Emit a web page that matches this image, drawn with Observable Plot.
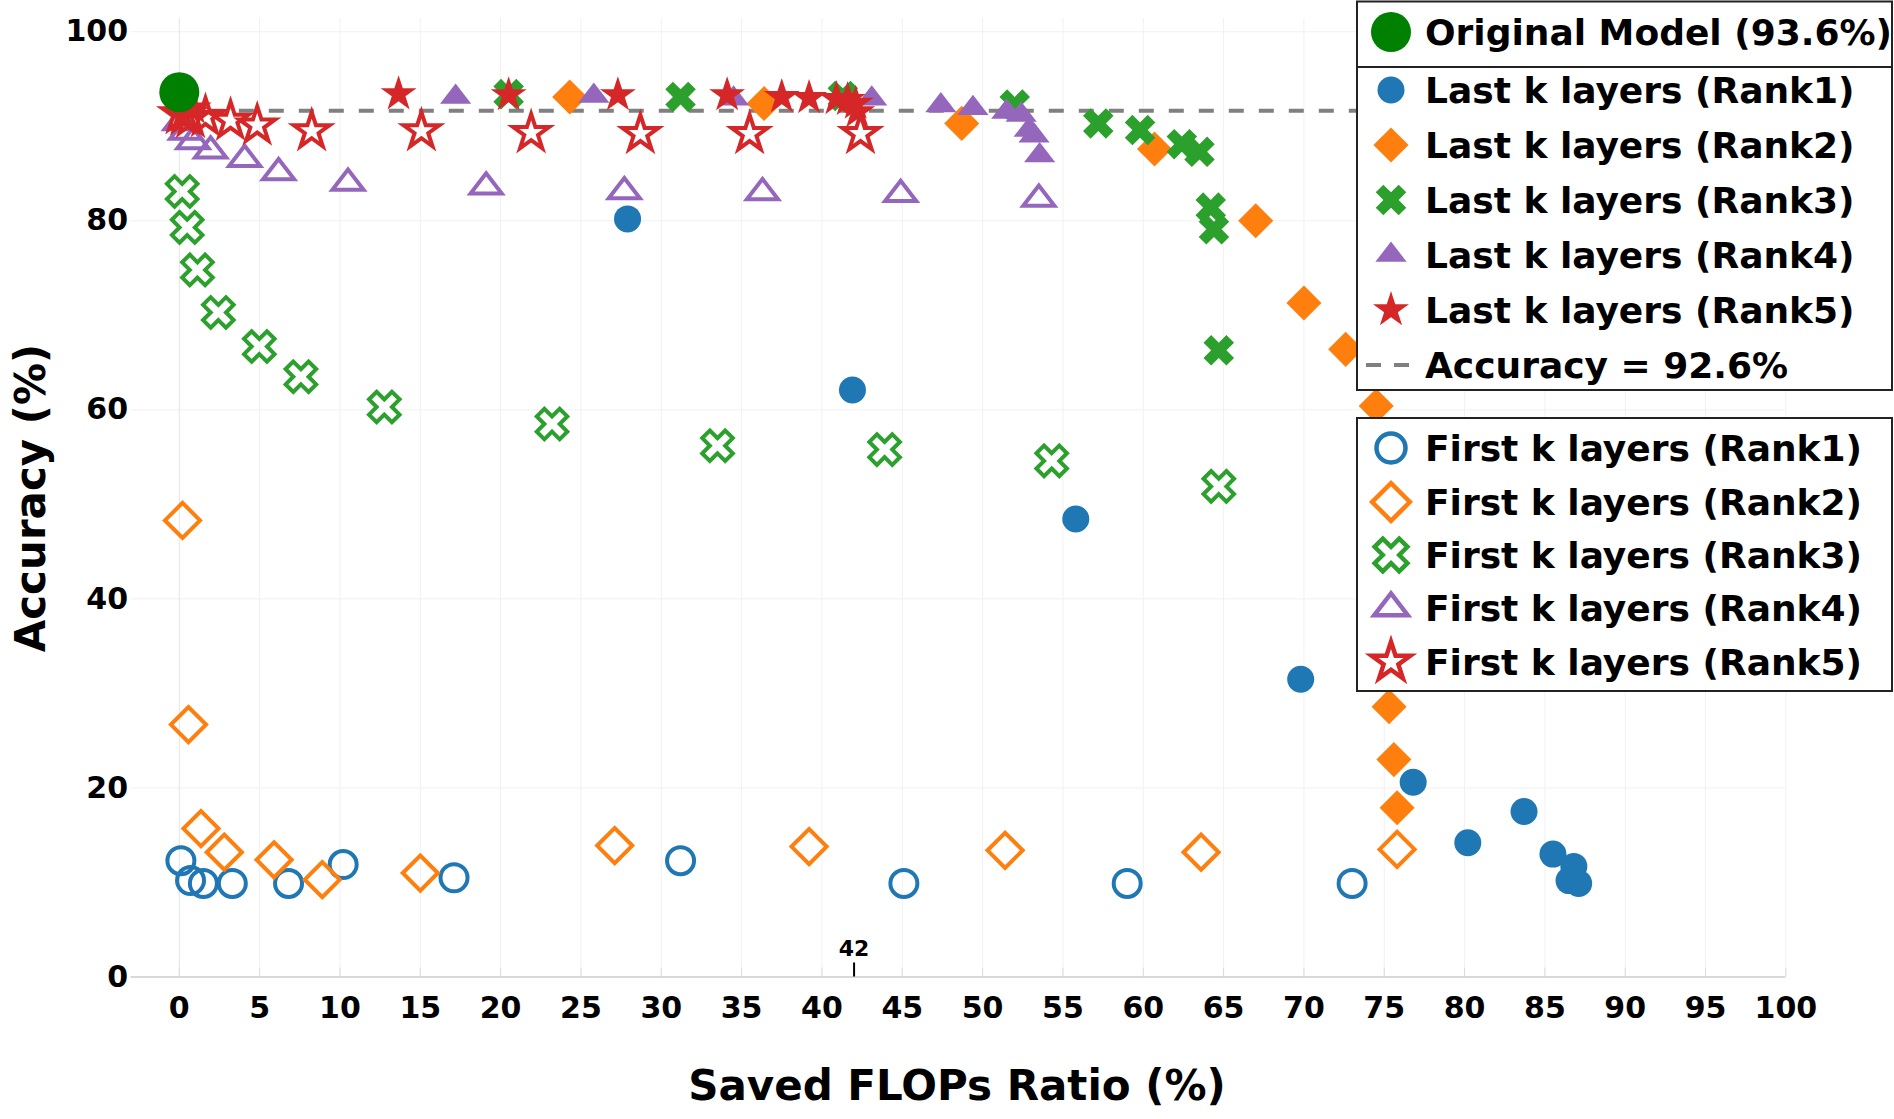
<!DOCTYPE html>
<html><head><meta charset="utf-8">
<script src="https://cdn.jsdelivr.net/npm/d3@7"></script>
<script src="https://cdn.jsdelivr.net/npm/@observablehq/plot@0.6"></script>
<style>html,body{margin:0;padding:0;background:#fff;} #chart{width:1894px;height:1119px;}</style>
</head><body><div id="chart"></div>
<script>
// ---------- data ----------
const xTicks = [0,5,10,15,20,25,30,35,40,45,50,55,60,65,70,75,80,85,90,95,100];
const yTicks = [0,20,40,60,80,100];
const markedX = [42];
const thresholdAcc = [91.65];
const originalModel = [[0, 93.6]];

const lastR1 = [[27.9,80.2],[41.9,62.1],[55.8,48.45],[69.8,31.5],[76.8,20.6],[80.2,14.2],[83.7,17.5],[85.5,13.0],[86.8,11.7],[86.5,10.2],[87.1,9.9]];
const lastR2 = [[24.3,93.1],[36.4,92.4],[48.7,90.3],[60.7,87.6],[67.0,80.0],[70.0,71.3],[72.6,66.4],[74.5,60.4],[75.3,28.6],[75.6,23.0],[75.8,17.9]];
const lastR3 = [[20.5,93.4],[31.2,93.1],[41.3,93.2],[52.0,92.3],[57.2,90.3],[59.8,89.6],[62.4,88.1],[63.5,87.3],[64.2,81.4],[64.4,79.1],[64.7,66.3]];
const lastR4 = [[17.2,93.1],[25.8,93.2],[34.5,92.9],[43.1,92.9],[47.4,92.2],[49.4,91.9],[51.5,91.5],[52.4,91.2],[52.9,89.6],[53.2,89.0],[53.55,86.9]];
const lastR5 = [[0.2,91.2],[0.9,91.9],[13.65,93.4],[20.5,93.3],[27.3,93.3],[34.1,93.3],[37.5,93.1],[39.2,93.0],[40.9,92.9],[41.6,92.8],[42.1,92.4],[42.2,91.5]];

const firstR1 = [[0.1,12.3],[0.7,10.2],[1.5,9.9],[3.3,9.9],[6.8,9.9],[10.2,11.9],[17.1,10.5],[31.2,12.3],[45.1,9.9],[59.0,9.9],[73.0,9.9]];
const firstR2 = [[0.2,48.3],[0.57,26.7],[1.35,15.7],[2.8,13.2],[5.9,12.4],[8.9,10.3],[15.0,11.0],[27.1,13.9],[39.2,13.8],[51.4,13.4],[63.6,13.2],[75.8,13.5]];
const firstR3 = [[0.18,83.1],[0.49,79.3],[1.13,74.8],[2.43,70.3],[4.98,66.7],[7.57,63.5],[12.76,60.3],[23.2,58.5],[33.5,56.2],[43.9,55.8],[54.3,54.6],[64.7,51.9]];
const firstR4 = [[0.05,90.4],[0.4,89.4],[0.85,88.4],[1.95,87.4],[4.07,86.5],[6.18,85.1],[10.5,84.0],[19.1,83.6],[27.7,83.1],[36.3,83.0],[44.9,82.8],[53.5,82.3]];
const firstR5 = [[0.05,91.3],[0.35,91.2],[0.7,90.9],[1.63,91.0],[3.19,90.6],[4.85,90.1],[8.24,89.5],[15.07,89.5],[21.9,89.3],[28.7,89.2],[35.5,89.2],[42.4,89.2]];

const lastLabels = ["Last k layers (Rank1)","Last k layers (Rank2)","Last k layers (Rank3)","Last k layers (Rank4)","Last k layers (Rank5)"];
const firstLabels = ["First k layers (Rank1)","First k layers (Rank2)","First k layers (Rank3)","First k layers (Rank4)","First k layers (Rank5)"];
const originalLabel = "Original Model (93.6%)";
const thresholdLabel = "Accuracy = 92.6%";
const xTitle = "Saved FLOPs Ratio (%)";
const yTitle = "Accuracy (%)";

// ---------- styles ----------
const colors = ["#1f77b4","#ff7f0e","#2ca02c","#9467bd","#d62728"];
const FONT = "'DejaVu Sans', sans-serif";

function plotlySym(kind) {
  return {draw(c, size) {
    const r = Math.sqrt(size / Math.PI);
    if (kind === "circle") { c.moveTo(r, 0); c.arc(0, 0, r, 0, 2 * Math.PI); c.closePath(); }
    else if (kind === "diamond") { const s = r * 1.3; c.moveTo(s, 0); c.lineTo(0, s); c.lineTo(-s, 0); c.lineTo(0, -s); c.closePath(); }
    else if (kind === "x") {
      const a = r * 0.8 / Math.SQRT2;
      const pts = [[0,a],[a,2*a],[2*a,a],[a,0],[2*a,-a],[a,-2*a],[0,-a],[-a,-2*a],[-2*a,-a],[-a,0],[-2*a,a],[-a,2*a]];
      c.moveTo(pts[0][0], pts[0][1]); for (let i = 1; i < pts.length; i++) c.lineTo(pts[i][0], pts[i][1]); c.closePath();
    }
    else if (kind === "triangle") { const rt = r * 2 / Math.sqrt(3); c.moveTo(-rt, r / 2); c.lineTo(rt, r / 2); c.lineTo(0, -r); c.closePath(); }
    else if (kind === "star") {
      const rs = r * 1.4;
      const x1 = rs*0.225, x2 = rs*0.951, x3 = rs*0.363, x4 = rs*0.588;
      const y1 = -rs, y2 = rs*-0.309, y3 = rs*0.118, y4 = rs*0.809, y5 = rs*0.382;
      const pts = [[x1,y2],[x2,y2],[x3,y3],[x4,y4],[0,y5],[-x4,y4],[-x3,y3],[-x2,y2],[-x1,y2],[0,y1]];
      c.moveTo(pts[0][0], pts[0][1]); for (let i = 1; i < pts.length; i++) c.lineTo(pts[i][0], pts[i][1]); c.closePath();
    }
  }};
}
const syms = ["circle","diamond","x","triangle","star"].map(plotlySym);
const lastSeries = [lastR1, lastR2, lastR3, lastR4, lastR5];
const firstSeries = [firstR1, firstR2, firstR3, firstR4, firstR5];
const R = 13.5;

const marks = [
  Plot.gridX(xTicks.filter(d => d !== 0), {stroke: "#f1f1f1", strokeOpacity: 1}),
  Plot.gridY(yTicks.filter(d => d !== 0), {stroke: "#f1f1f1", strokeOpacity: 1}),
  Plot.gridX([0], {stroke: "#e4e4e4", strokeOpacity: 1}),
  Plot.ruleX(xTicks, {y1: 0, y2: 0, insetTop: -9, stroke: "#dcdcdc"}),
  Plot.ruleY([0], {stroke: "#cccccc", strokeWidth: 1.5}),
  Plot.axisX(xTicks, {anchor: "bottom", tickSize: 0, tickPadding: 20, fontSize: 30, fontWeight: "bold", fill: "#000", label: null}),
  Plot.axisY(yTicks, {anchor: "left", tickSize: 0, tickPadding: 3, fontSize: 30, fontWeight: "bold", fill: "#000", label: null}),
  Plot.ruleY(thresholdAcc, {x1: 0, x2: 100, stroke: "#808080", strokeWidth: 4, strokeDasharray: "15,15"})
];
firstSeries.forEach((s, i) => marks.push(Plot.dot(s, {x: d => d[0], y: d => d[1], r: R, symbol: syms[i], fill: "none", stroke: colors[i], strokeWidth: 4})));
lastSeries.forEach((s, i) => marks.push(Plot.dot(s, {x: d => d[0], y: d => d[1], r: R, symbol: syms[i], fill: colors[i], stroke: "none"})));
marks.push(Plot.dot(originalModel, {x: d => d[0], y: d => d[1], r: 20, fill: "#008000", stroke: "none"}));
marks.push(Plot.ruleX(markedX, {y1: 0, y2: 0, insetTop: -14, stroke: "#000", strokeWidth: 2}));
marks.push(Plot.text(markedX, {x: d => d, y: 0, text: d => `${d}`, dy: -21.5, lineAnchor: "bottom", fontSize: 22, fontWeight: "bold", fill: "#000"}));

const chart = Plot.plot({
  width: 1894, height: 1119,
  marginLeft: 130.6, marginRight: 108.6, marginTop: 18, marginBottom: 142.5,
  x: {domain: [-3, 100]},
  y: {domain: [0, 101.4]},
  style: {fontFamily: FONT, background: "#fff", overflow: "visible"},
  marks
});
document.getElementById("chart").appendChild(chart);

// ---------- axis titles and legend ----------
const svg = d3.select(chart);
svg.append("text").attr("x", 957).attr("y", 1100).attr("text-anchor", "middle")
  .attr("font-family", FONT).attr("font-weight", "bold").attr("font-size", 42).attr("fill", "#000").text(xTitle);
svg.append("text").attr("transform", "translate(45,498) rotate(-90)").attr("text-anchor", "middle")
  .attr("font-family", FONT).attr("font-weight", "bold").attr("font-size", 42).attr("fill", "#000").text(yTitle);

function symPath(sym, r) { const p = d3.path(); sym.draw(p, Math.PI * r * r); return p.toString(); }
const lg = svg.append("g");
const LX = 1357, LW = 535, SX = 1391, TX = 1425;
function box(y0, y1) { lg.append("rect").attr("x", LX).attr("y", y0).attr("width", LW).attr("height", y1 - y0).attr("fill", "#fff").attr("stroke", "#222").attr("stroke-width", 2); }
function label(y, t) { lg.append("text").attr("x", TX).attr("y", y + 13).attr("text-anchor", "start").attr("font-family", FONT).attr("font-weight", "bold").attr("font-size", 36).attr("fill", "#000").text(t); }
box(1.5, 67); box(67, 390); box(418, 691);
lg.append("circle").attr("cx", SX).attr("cy", 32).attr("r", 20).attr("fill", "#008000");
label(32, originalLabel);
const lastY = [90, 145, 200, 255, 310];
lastLabels.forEach((t, i) => {
  lg.append("path").attr("transform", `translate(${SX},${lastY[i]})`).attr("d", symPath(syms[i], R)).attr("fill", colors[i]);
  label(lastY[i], t);
});
lg.append("line").attr("x1", SX - 25).attr("x2", SX + 20).attr("y1", 365).attr("y2", 365)
  .attr("stroke", "#808080").attr("stroke-width", 4).attr("stroke-dasharray", "15,13");
label(365, thresholdLabel);
const firstY = [448, 502, 555, 608, 662];
firstLabels.forEach((t, i) => {
  lg.append("path").attr("transform", `translate(${SX},${firstY[i]})`).attr("d", symPath(syms[i], 14.5)).attr("fill", "none").attr("stroke", colors[i]).attr("stroke-width", 4.5);
  label(firstY[i], t);
});
</script></body></html>
